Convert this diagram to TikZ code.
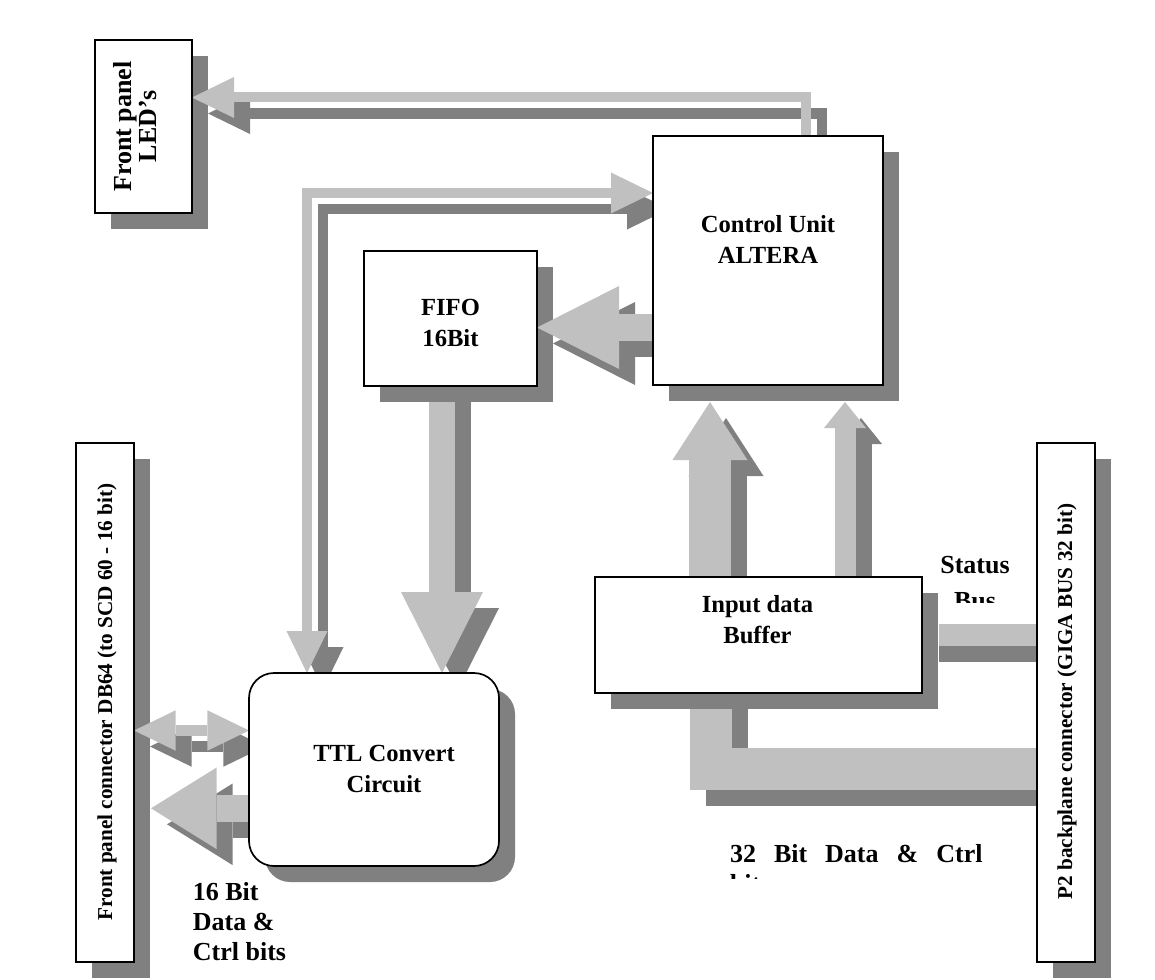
\documentclass[tikz,border=0pt]{standalone}
\usepackage{fontspec}
\setmainfont{Liberation Serif}
\usetikzlibrary{arrows.meta}

\definecolor{barlight}{HTML}{C0C0C0}
\definecolor{bardark}{HTML}{808080}

\pgfdeclarelayer{back}
\pgfsetlayers{back,main}

\tikzset{
  box/.style={rectangle, draw=black, line width=0.85pt, fill=white, inner sep=0pt, outer sep=0pt},
  txt/.style={font=\fontsize{12.3}{15.5}\selectfont\bfseries, align=center, inner sep=0pt},
  sidetxt/.style={font=\fontsize{10.6}{12}\selectfont\bfseries, inner sep=0pt, rotate=90},
  note/.style={font=\fontsize{13}{15}\selectfont\bfseries, align=left, inner sep=0pt},
  lightbar/.style={draw=barlight},
  darkbar/.style={draw=bardark, transform canvas={shift={(8pt,-8pt)}}},
  onehead/.style 2 args={-{Triangle[length=#1, width=#2, line width=0pt]}},
  twoheads/.style 2 args={{Triangle[length=#1, width=#2, line width=0pt]}-{Triangle[length=#1, width=#2, line width=0pt]}},
}

\begin{document}
\begin{tikzpicture}[x=0.5pt, y=-0.5pt]
  \useasboundingbox (0,0) rectangle (1155,979);

  % blocks
  \node[box, minimum width=48.5pt, minimum height=86.5pt] (led) at (143.5,126.5) {};
  \node[box, minimum width=115pt, minimum height=124.5pt] (cu) at (768,260.5) {};
  \node[box, minimum width=86.5pt, minimum height=67.5pt] (fifo) at (450.5,318.5) {};
  \node[box, rounded corners=12.5pt, minimum width=125pt, minimum height=96.5pt] (ttl) at (374,769.5) {};
  \node[box, minimum width=163.5pt, minimum height=58pt] (buf) at (758.5,635) {};
  \node[box, minimum width=29pt, minimum height=259.5pt] (fpc) at (105,702.5) {};
  \node[box, minimum width=29pt, minimum height=259.5pt] (p2) at (1066,702.5) {};

  % labels
  \node[txt, rotate=90, font=\fontsize{13}{9.8}\selectfont\bfseries] (led-txt) at (135.5,126.5) {\lineskiplimit=-20pt\relax Front panel\\LED's};
  \node[txt] (cu-txt) at (768,239) {Control Unit\\ALTERA};
  \node[txt] (fifo-txt) at (450.5,323) {FIFO\\16Bit};
  \node[txt] (ttl-txt) at (384,768.5) {TTL Convert\\Circuit};
  \node[txt] (buf-txt) at (757.5,619.5) {Input data\\Buffer};
  \node[sidetxt] (fpc-txt) at (107,702) {Front panel connector DB64 (to SCD 60 - 16 bit)};
  \node[sidetxt] (p2-txt) at (1067,701.5) {P2 backplane connector (GIGA BUS 32 bit)};
  \node[note, anchor=north west] (bits16) at (192.5,882) {16 Bit\\Data \&\\Ctrl bits};
  \begin{scope}
    \clip (930,540) rectangle (1030,602.3);
    \node[note, align=center, anchor=north, font=\fontsize{13}{18}\selectfont\bfseries] (status) at (975,556) {Status\\Bus};
  \end{scope}
  \begin{scope}
    \clip (700,830) rectangle (1000,878.3);
    \node[note, anchor=north west] (bits32) at (729.6,844) {32\hspace{9pt}Bit\hspace{9pt}Data\hspace{9pt}\&\hspace{9pt}Ctrl\\bits};
  \end{scope}

  % lanes of the buses
  \coordinate (ledlane) at (806,97.5);
  \coordinate (buslane) at (307,193);
  \coordinate (fifolane) at (0,327.5);
  \coordinate (datatop) at (442,402);
  \coordinate (ctrllane) at (0,730.5);
  \coordinate (outtip) at (151,808.3);
  \coordinate (uptip) at (710,402);
  \coordinate (flagtip) at (845,402);
  \coordinate (statusbus) at (939,635);
  \coordinate (bus32) at (711,709);
  \coordinate (bus32row) at (0,769);

  \begin{pgfonlayer}{back}
    % shadows of the blocks
    \fill[bardark] ([shift={(8pt,-8pt)}]led.north west) rectangle ([shift={(8pt,-8pt)}]led.south east);
    \fill[bardark] ([shift={(8pt,-8pt)}]cu.north west) rectangle ([shift={(8pt,-8pt)}]cu.south east);
    \fill[bardark] ([shift={(8pt,-8pt)}]fifo.north west) rectangle ([shift={(8pt,-8pt)}]fifo.south east);
    \fill[bardark, rounded corners=12.5pt] ([shift={(8pt,-8pt)}]ttl.north west) rectangle ([shift={(8pt,-8pt)}]ttl.south east);
    \fill[bardark] ([shift={(8pt,-8pt)}]buf.north west) rectangle ([shift={(8pt,-8pt)}]buf.south east);
    \fill[bardark] ([shift={(8pt,-8pt)}]fpc.north west) rectangle ([shift={(8pt,-8pt)}]fpc.south east);
    \fill[bardark] ([shift={(8pt,-8pt)}]p2.north west) rectangle ([shift={(8pt,-8pt)}]p2.south east);

    % buses: shadow first, then the bar
    \draw[darkbar, line width=5pt, onehead={21pt}{20.5pt}] (cu.north -| ledlane) |- (led.east |- ledlane);
    \draw[lightbar, line width=5pt, onehead={21pt}{20.5pt}] (cu.north -| ledlane) |- (led.east |- ledlane);
    \draw[darkbar, line width=5.2pt, twoheads={21pt}{20.5pt}] (ttl.north -| buslane) |- (cu.west |- buslane);
    \draw[lightbar, line width=5.2pt, twoheads={21pt}{20.5pt}] (ttl.north -| buslane) |- (cu.west |- buslane);
    \draw[darkbar, line width=13.2pt, onehead={41pt}{41.5pt}] (cu.west |- fifolane) -- (fifo.east |- fifolane);
    \draw[lightbar, line width=13.2pt, onehead={41pt}{41.5pt}] (cu.west |- fifolane) -- (fifo.east |- fifolane);
    \draw[darkbar, shorten <=-8pt, line width=13pt, onehead={40.5pt}{41pt}] (datatop) -- (ttl.north -| datatop);
    \draw[lightbar, line width=13pt, onehead={40.5pt}{41pt}] (datatop) -- (ttl.north -| datatop);
    \draw[darkbar, line width=5.3pt, twoheads={20.8pt}{20.2pt}] (fpc.east |- ctrllane) -- (ttl.west |- ctrllane);
    \draw[lightbar, line width=5.3pt, twoheads={20.8pt}{20.2pt}] (fpc.east |- ctrllane) -- (ttl.west |- ctrllane);
    \draw[darkbar, line width=13.3pt, onehead={32.8pt}{40.8pt}] (ttl.west |- outtip) -- (outtip);
    \draw[lightbar, line width=13.3pt, onehead={32.8pt}{40.8pt}] (ttl.west |- outtip) -- (outtip);
    \draw[darkbar, line width=21pt, onehead={29pt}{37.5pt}] (buf.north -| uptip) -- (uptip);
    \draw[lightbar, line width=21pt, onehead={29pt}{37.5pt}] (buf.north -| uptip) -- (uptip);
    \draw[darkbar, line width=10.5pt, onehead={13pt}{21pt}] (buf.north -| flagtip) -- (flagtip);
    \draw[lightbar, line width=10.5pt, onehead={13pt}{21pt}] (buf.north -| flagtip) -- (flagtip);
    \draw[darkbar, shorten <=-8pt, line width=10.8pt] (statusbus) -- (p2.west |- statusbus);
    \draw[lightbar, line width=10.8pt] (statusbus) -- (p2.west |- statusbus);
    \draw[darkbar, shorten <=-8pt, line width=21pt] (bus32) |- (p2.west |- bus32row);
    \draw[lightbar, line width=21pt] (bus32) |- (p2.west |- bus32row);
  \end{pgfonlayer}
\end{tikzpicture}
\end{document}
